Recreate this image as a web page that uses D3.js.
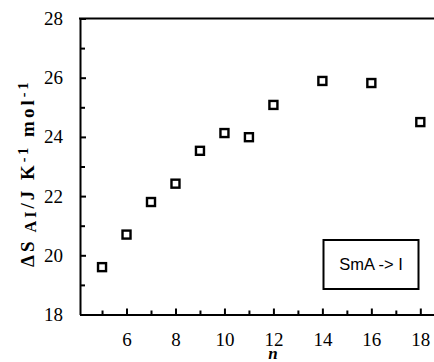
<!DOCTYPE html>
<html>
<head>
<meta charset="utf-8">
<script src="https://cdn.jsdelivr.net/npm/d3@7"></script>
<style>
  body { margin: 0; background: #fff; }
  svg { display: block; }
</style>
</head>
<body>
<svg id="chart"></svg>
<script>
var width = 434,
    height = 362;

// chain length n and entropy of SmA -> I transition
var nValues = [5, 6, 7, 8, 9, 10, 11, 12, 14, 16, 18];
var dS = [19.6, 20.7, 21.8, 22.42, 23.53, 24.13, 23.99, 25.08, 25.89, 25.82, 24.5];
var xTicks = [6, 8, 10, 12, 14, 16, 18];
var xMinor = [5, 7, 9, 11, 13, 15, 17];
var yTicks = [18, 20, 22, 24, 26, 28];
var yMinor = [19, 21, 23, 25, 27];
var legendLabel = 'SmA -> I';

var MARGIN = {
    LEFT: 80,
    TOP: 18.5,
    BOTTOM: 314.5
};

var xScale = d3.scaleLinear()
    .domain([4.1, 18.6])
    .range([MARGIN.LEFT, 435]);

var yScale = d3.scaleLinear()
    .domain([18, 28])
    .range([MARGIN.BOTTOM, MARGIN.TOP]);

var svg = d3.select('#chart')
    .attr('width', width)
    .attr('height', height);

var serif = '"Liberation Serif", "Times New Roman", serif';

var xAxis = d3.axisBottom(xScale)
    .tickValues(xTicks)
    .tickFormat(d3.format('d'))
    .tickSizeInner(-6)
    .tickSizeOuter(0)
    .tickPadding(18);

var xAxisMinor = d3.axisBottom(xScale)
    .tickValues(xMinor)
    .tickFormat('')
    .tickSizeInner(-4)
    .tickSizeOuter(0);

var yAxis = d3.axisLeft(yScale)
    .tickValues(yTicks)
    .tickFormat(d3.format('d'))
    .tickSizeInner(-6)
    .tickSizeOuter(0)
    .tickPadding(17);

var yAxisMinor = d3.axisLeft(yScale)
    .tickValues(yMinor)
    .tickFormat('')
    .tickSizeInner(-5)
    .tickSizeOuter(0);

svg.append('g')
    .attr('transform', 'translate(0,' + MARGIN.BOTTOM + ')')
    .call(xAxis);
svg.append('g')
    .attr('transform', 'translate(0,' + MARGIN.BOTTOM + ')')
    .call(xAxisMinor)
    .select('.domain').remove();

svg.append('g')
    .attr('transform', 'translate(' + MARGIN.LEFT + ',0)')
    .call(yAxis);
svg.append('g')
    .attr('transform', 'translate(' + MARGIN.LEFT + ',0)')
    .call(yAxisMinor)
    .select('.domain').remove();

svg.selectAll('.domain, .tick line')
    .attr('stroke', '#000')
    .attr('stroke-width', 2);

svg.selectAll('.tick text')
    .attr('fill', '#000')
    .style('font-family', serif)
    .style('font-size', '19px');

// top frame line
svg.append('line')
    .attr('x1', MARGIN.LEFT - 1)
    .attr('x2', width)
    .attr('y1', yScale(28))
    .attr('y2', yScale(28))
    .attr('stroke', '#000')
    .attr('stroke-width', 2);

// markers
svg.append('g')
    .selectAll('rect')
    .data(nValues)
    .join('rect')
    .attr('x', function (d) { return xScale(d) - 4; })
    .attr('y', function (d, i) { return yScale(dS[i]) - 4; })
    .attr('width', 8)
    .attr('height', 8)
    .attr('fill', '#fff')
    .attr('stroke', '#000')
    .attr('stroke-width', 2.4);

// legend box
var legend = svg.append('g');
legend.append('rect')
    .attr('x', 323.5)
    .attr('y', 240)
    .attr('width', 95)
    .attr('height', 49)
    .attr('fill', '#fff')
    .attr('stroke', '#000')
    .attr('stroke-width', 2);
legend.append('text')
    .attr('x', 371)
    .attr('y', 270)
    .attr('text-anchor', 'middle')
    .style('font-family', '"Liberation Sans", Arial, sans-serif')
    .style('font-size', '16.5px')
    .text(legendLabel);

// x label
svg.append('text')
    .attr('x', 273)
    .attr('y', 359)
    .attr('text-anchor', 'middle')
    .style('font-family', serif)
    .style('font-size', '17px')
    .style('font-weight', 'bold')
    .style('font-style', 'italic')
    .text('n');

// y label
var yLabel = svg.append('text')
    .attr('transform', 'translate(34,267) rotate(-90)')
    .style('font-family', serif)
    .style('font-size', '19px')
    .style('font-weight', 'bold')
    .style('letter-spacing', '3px');
yLabel.append('tspan').text('\u0394S');
yLabel.append('tspan').attr('dy', 2).style('font-size', '16px').text(' AI');
yLabel.append('tspan').attr('dy', -2).text('/J K');
yLabel.append('tspan').attr('dy', -6).style('font-size', '14px').text('-1');
yLabel.append('tspan').attr('dy', 6).text(' mol');
yLabel.append('tspan').attr('dy', -6).style('font-size', '14px').text('-1');
</script>
</body>
</html>
